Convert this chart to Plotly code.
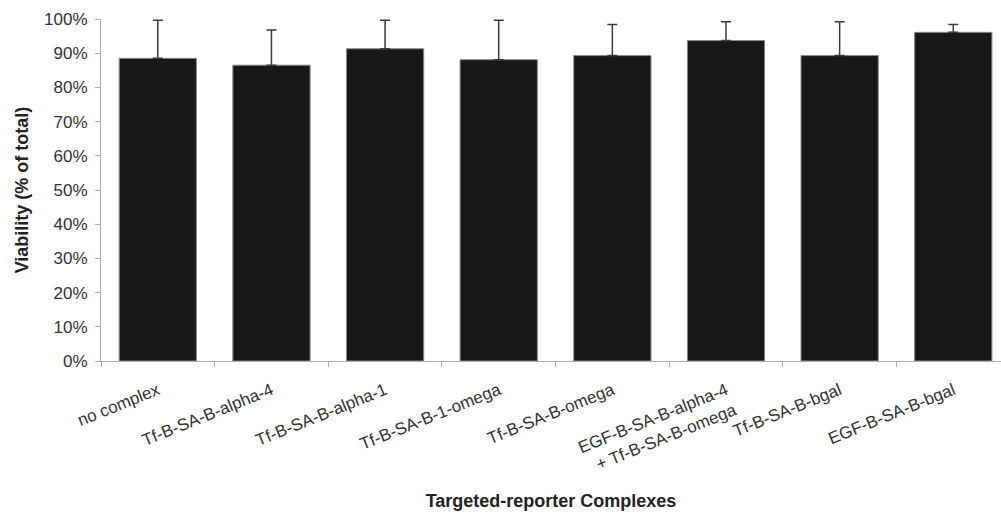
import plotly.graph_objects as go

categories = [
    "no complex",
    "Tf-B-SA-B-alpha-4",
    "Tf-B-SA-B-alpha-1",
    "Tf-B-SA-B-1-omega",
    "Tf-B-SA-B-omega",
    "EGF-B-SA-B-alpha-4<br>+ Tf-B-SA-B-omega",
    "Tf-B-SA-B-bgal",
    "EGF-B-SA-B-bgal",
]
viability = [88.5, 86.5, 91.3, 88.1, 89.3, 93.7, 89.3, 96.1]
error_plus = [11.1, 10.3, 8.3, 11.5, 9.1, 5.5, 9.9, 2.3]

font_family = "Arial, 'Liberation Sans', sans-serif"
text_color = "#333333"
axis_color = "#b0b0b0"

fig = go.Figure(
    go.Bar(
        x=categories,
        y=viability,
        marker=dict(color="#161819", line=dict(color="#8a8a8a", width=1)),
        error_y=dict(
            type="data",
            symmetric=False,
            array=error_plus,
            arrayminus=[0] * len(error_plus),
            color="#3a3a3a",
            thickness=1.5,
            width=5,
        ),
    )
)

fig.update_layout(
    width=1001,
    height=515,
    margin=dict(l=101, r=0, t=19, b=154),
    paper_bgcolor="white",
    plot_bgcolor="white",
    bargap=0.32,
    showlegend=False,
    font=dict(family=font_family, size=17, color=text_color),
)

fig.update_xaxes(
    range=[-0.5, 7.42],
    showline=True,
    linecolor=axis_color,
    linewidth=1,
    ticks="outside",
    tickson="boundaries",
    ticklen=5,
    tickcolor=axis_color,
    tickangle=-22,
    ticklabelstandoff=12,
    tickfont=dict(size=17, color=text_color),
    showgrid=False,
    title=dict(
        text="<b>Targeted-reporter Complexes</b>",
        font=dict(size=18, color="#222222"),
        standoff=17,
    ),
)

fig.update_yaxes(
    range=[0, 100],
    dtick=10,
    ticksuffix="%",
    showline=True,
    linecolor=axis_color,
    linewidth=1,
    ticks="outside",
    ticklen=5,
    tickcolor=axis_color,
    ticklabelstandoff=4,
    tickfont=dict(size=17, color=text_color),
    showgrid=False,
    zeroline=False,
    title=dict(
        text="<b>Viability (% of total)</b>",
        font=dict(size=18, color="#222222"),
        standoff=10,
    ),
)

fig.write_html("out.html")
